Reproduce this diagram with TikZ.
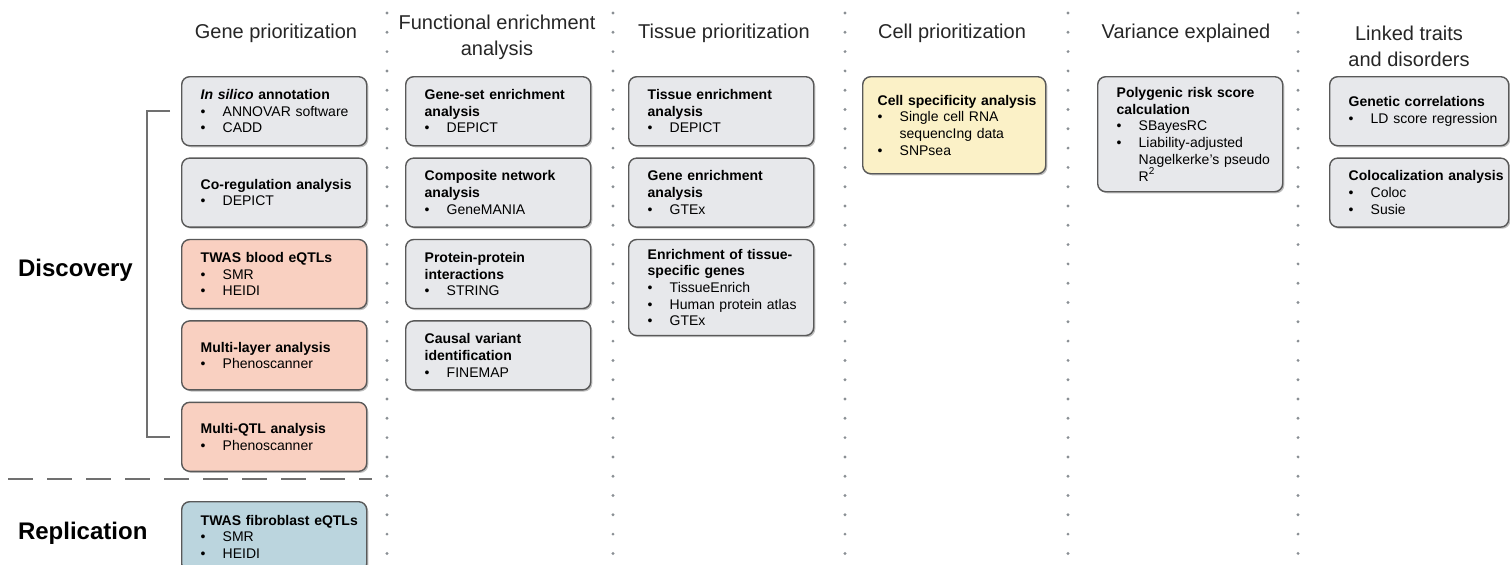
\documentclass[tikz,border=0pt]{standalone}
\usepackage{fontspec}
\setmainfont{Liberation Sans}
\usepackage{tikz}
\usetikzlibrary{positioning,shadows}
\definecolor{BoxGray}{HTML}{E7E8EB}
\definecolor{BoxSalmon}{HTML}{F9D0C1}
\definecolor{BoxYellow}{HTML}{FBF1C7}
\definecolor{BoxBlue}{HTML}{BBD5DE}
\definecolor{BoxLine}{HTML}{595959}
\definecolor{DotGray}{HTML}{8A8F94}
\definecolor{RuleGray}{HTML}{707070}
\newcommand{\ttl}[1]{\mbox{\bfseries #1}}
\newcommand{\itm}[1]{\\\mbox{\makebox[11pt][l]{\textbullet}#1}}
\newcommand{\cnt}[1]{\\\mbox{\hspace*{11pt}#1}}

\begin{document}
\begin{tikzpicture}[x=0.5pt,y=-0.5pt,node distance=5.5pt]
  \tikzstyle{abox}=[draw=BoxLine,line width=0.7pt,rounded corners=4pt,
    minimum height=34.5pt,text width=73.5pt,inner xsep=9.5pt,inner ysep=3pt,
    align=left,font=\fontsize{7}{8.35}\selectfont,
    drop shadow={shadow xshift=0.8pt,shadow yshift=-0.8pt,fill=black,opacity=0.25}]
  \tikzstyle{grey}=[abox,fill=BoxGray]
  \tikzstyle{salmon}=[abox,fill=BoxSalmon]
  \tikzstyle{yellow}=[abox,fill=BoxYellow]
  \tikzstyle{blue}=[abox,fill=BoxBlue]
  \tikzstyle{head}=[font=\fontsize{10}{13}\selectfont,align=center,text=black!85]
  \tikzstyle{side}=[font=\fontsize{12}{14}\selectfont\bfseries,anchor=west]
  \tikzstyle{divider}=[DotGray,line width=1.6pt,line cap=round,
    dash pattern=on 0pt off 9.65pt]

  \useasboundingbox (0,0) rectangle (1510,564);
  \clip (0,0) rectangle (1510,564);

  % column dividers
  \foreach \x in {387,613,845,1068,1298}
    \draw[divider] (\x,13) -- (\x,575);

  % headers
  \node[head] (hgene) at (276,33) {Gene prioritization};
  \node[head] (hfunc) at (497,37) {Functional enrichment\\analysis};
  \node[head] (htiss) at (724,33) {Tissue prioritization};
  \node[head] (hcell) at (952,33) {Cell prioritization};
  \node[head] (hvar) at (1186,33) {Variance explained};
  \node[head] (hlink) at (1409,46) {Linked traits\\and disorders};

  % gene prioritization
  \node[grey,anchor=north west] (insil) at (181,76)
    {\ttl{\itshape In silico\upshape{} annotation}\itm{ANNOVAR software}\itm{CADD}};
  \node[grey,below=of insil] (coreg) {\ttl{Co-regulation analysis}\itm{DEPICT}};
  \node[salmon,below=of coreg] (twasb) {\ttl{TWAS blood eQTLs}\itm{SMR}\itm{HEIDI}};
  \node[salmon,below=of twasb] (mlay) {\ttl{Multi-layer analysis}\itm{Phenoscanner}};
  \node[salmon,below=of mlay] (mqtl) {\ttl{Multi-QTL analysis}\itm{Phenoscanner}};
  \node[blue,anchor=north west,minimum height=35pt] (twasf) at (181,501)
    {\ttl{TWAS fibroblast eQTLs}\itm{SMR}\itm{HEIDI}};

  % functional enrichment
  \node[grey,anchor=north west] (gset) at (405,76)
    {\ttl{Gene-set enrichment}\\\ttl{analysis}\itm{DEPICT}};
  \node[grey,below=of gset] (cnet) {\ttl{Composite network}\\\ttl{analysis}\itm{GeneMANIA}};
  \node[grey,below=of cnet] (ppi) {\ttl{Protein-protein}\\\ttl{interactions}\itm{STRING}};
  \node[grey,below=of ppi] (cvar) {\ttl{Causal variant}\\\ttl{identification}\itm{FINEMAP}};

  % tissue prioritization
  \node[grey,anchor=north west] (tenr) at (628,76)
    {\ttl{Tissue enrichment}\\\ttl{analysis}\itm{DEPICT}};
  \node[grey,below=of tenr] (genr) {\ttl{Gene enrichment}\\\ttl{analysis}\itm{GTEx}};
  \node[grey,below=of genr,minimum height=48pt] (tspec)
    {\ttl{Enrichment of tissue-}\\\ttl{specific genes}\itm{TissueEnrich}\itm{Human protein atlas}\itm{GTEx}};

  % cell prioritization
  \node[yellow,anchor=north west,minimum height=48.5pt,inner xsep=7.5pt,text width=76.5pt] (cspec) at (862,76)
    {\ttl{Cell specificity analysis}\itm{Single cell RNA}\cnt{sequencIng data}\itm{SNPsea}};

  % variance explained
  \node[grey,anchor=north west,minimum height=57.5pt] (prs) at (1097,76)
    {\ttl{Polygenic risk score}\\\ttl{calculation}\itm{SBayesRC}\itm{Liability-adjusted}\cnt{Nagelkerke's pseudo}\cnt{R\textsuperscript{2}}};

  % linked traits
  \node[grey,anchor=north west,text width=70.5pt] (gcor) at (1329,76)
    {\ttl{Genetic correlations}\itm{LD score regression}};
  \node[grey,below=of gcor,text width=70.5pt] (coloc)
    {\ttl{Colocalization analysis}\itm{Coloc}\itm{Susie}};

  % discovery / replication
  \node[side] (disc) at (11,270) {Discovery};
  \node[side] (repl) at (11,533) {Replication};
  \draw[RuleGray,line width=0.8pt] ([xshift=-5.5pt]insil.west) -- ++(-11.5pt,0)
    |- ([xshift=-5.5pt]mqtl.west);
  \draw[RuleGray,line width=1pt,dash pattern=on 12.5pt off 7pt] (8,479) -- (372,479);
\end{tikzpicture}
\end{document}
